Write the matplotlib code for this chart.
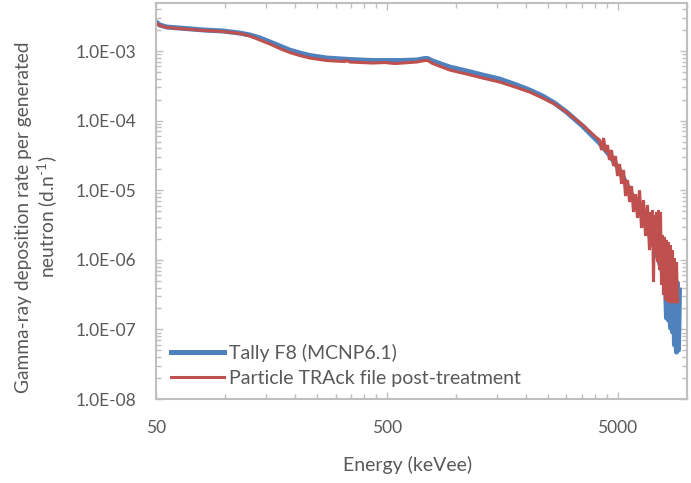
import matplotlib
matplotlib.use("Agg")
import matplotlib.pyplot as plt
from matplotlib.ticker import FixedLocator, NullFormatter

plt.rcParams['font.family'] = ['Lato', 'DejaVu Sans']
plt.rcParams['mathtext.fontset'] = 'custom'
plt.rcParams['mathtext.rm'] = 'Lato'
plt.rcParams['mathtext.it'] = 'Lato:italic'
plt.rcParams['mathtext.bf'] = 'Lato:bold'

# ---- data ----
tally_energy = [50, 52, 55.8, 66.8, 81.5, 97.5, 115.5, 127.6, 141, 155.8, 172, 190, 210, 232,
                275, 346, 434, 569, 674, 730, 752, 791, 937, 1110, 1302, 1542, 1827, 2079,
                2367, 2667, 3005, 3528, 4177, 4613, 5103, 5636, 6227, 6741, 7301, 7906,
                8069, 8150, 8231, 8314, 8397, 8481, 8566, 8652, 8739, 8826, 8915, 9004, 9094,
                9185, 9277]
tally_rate = [2.61e-3, 2.36e-3, 2.21e-3, 2.11e-3, 2.00e-3, 1.94e-3, 1.81e-3, 1.70e-3, 1.54e-3,
              1.35e-3, 1.18e-3, 1.03e-3, 9.36e-4, 8.62e-4, 7.93e-4, 7.55e-4, 7.30e-4, 7.30e-4,
              7.43e-4, 7.80e-4, 7.80e-4, 7.18e-4, 5.89e-4, 5.16e-4, 4.52e-4, 3.96e-4, 3.25e-4,
              2.75e-4, 2.256e-4, 1.79e-4, 1.33e-4, 8.36e-5, 4.77e-5, 3.2e-5, 1.95e-5, 1.0e-5,
              5.2e-6, 2.68e-6, 1.38e-6, 6.05e-7,
              4.35e-7, 1.46e-7, 3.68e-7, 1.36e-7, 3.68e-7, 1.05e-7, 3.93e-7, 9.18e-8, 3.93e-7,
              5.97e-8, 4.35e-7, 4.73e-8, 4.64e-7, 5.06e-8, 3.68e-7]

ptrac_energy = [50, 52, 55.8, 66.8, 81.5, 97.5, 115.5, 127.6, 141, 155.8, 172, 190, 210, 232,
                275, 329, 335.6, 346, 434, 490, 541.5, 629, 674, 730, 752, 791, 937, 1110,
                1302, 1542, 1827, 2079, 2367, 2667, 3005, 3528, 3975,
                4177, 4262, 4349, 4437, 4525, 4613, 4710, 4804, 4900, 5000, 5103, 5204, 5309,
                5416, 5525, 5636, 5749, 5865, 5982, 6103, 6227, 6351, 6480, 6610, 6741,
                6878, 6947, 7017, 7087, 7159, 7230, 7303, 7376, 7450, 7525, 7600, 7676, 7753,
                7831, 7909, 7989, 8069, 8150, 8231, 8314, 8397, 8481, 8566, 8652, 8739, 8826,
                8915, 9004, 9094]
ptrac_rate = [2.525e-3, 2.325e-3, 2.176e-3, 2.07e-3, 1.97e-3, 1.906e-3, 1.784e-3, 1.643e-3,
              1.439e-3, 1.26e-3, 1.086e-3, 9.52e-4, 8.62e-4, 7.93e-4, 7.30e-4, 7.06e-4, 7.30e-4,
              6.95e-4, 6.72e-4, 6.84e-4, 6.61e-4, 6.84e-4, 6.95e-4, 7.30e-4, 7.30e-4, 6.61e-4,
              5.33e-4, 4.67e-4, 4.09e-4, 3.585e-4, 2.99e-4, 2.576e-4, 2.11e-4, 1.73e-4, 1.33e-4,
              8.65e-5, 6.01e-5,
              5.26e-5, 3.78e-5, 5.62e-5, 3.54e-5, 4.46e-5, 2.72e-5, 3.78e-5, 2.23e-5, 3.1e-5,
              1.6e-5, 2.38e-5, 1.23e-5, 1.95e-5, 8.25e-6, 1.4e-5, 6.77e-6, 1.15e-5, 4.86e-6,
              8.82e-6, 3.99e-6, 1.0e-5, 2.86e-6, 7.23e-6, 2.2e-6, 6.13e-6,
              1.38e-6, 4.86e-6, 1.63e-6, 5.19e-6, 4.8e-7, 4.4e-6, 1.38e-6, 4.86e-6, 9.3e-7,
              5.19e-6, 7.14e-7, 4.86e-6, 4.35e-7, 2.27e-6, 3.12e-7, 2.13e-6, 2.64e-7, 1.93e-6,
              2.48e-7, 1.8e-6, 2.39e-7, 1.63e-6, 2.39e-7, 1.38e-6, 2.39e-7, 1.06e-6, 2.39e-7,
              9.3e-7, 2.48e-7]

x_major = [50, 500, 5000]
x_major_labels = ["50", "500", "5000"]
x_minor = [100, 150, 200, 250, 300, 350, 400, 450,
           1000, 1500, 2000, 2500, 3000, 3500, 4000, 4500, 10000]
y_major = [1e-8, 1e-7, 1e-6, 1e-5, 1e-4, 1e-3]
y_major_labels = ["1.0E-08", "1.0E-07", "1.0E-06", "1.0E-05", "1.0E-04", "1.0E-03"]
y_minor = [m * 10.0 ** e for e in range(-8, -2) for m in range(2, 10)]

series_names = ["Tally F8 (MCNP6.1)", "Particle TRAck file post-treatment"]
x_title = "Energy (keVee)"
y_title = "Gamma-ray deposition rate per generated\nneutron (d.n$^{\\text{-1}}$)"

# ---- figure ----
fig = plt.figure(figsize=(6.91, 4.83), dpi=100)
ax = fig.add_axes([156 / 691, 1 - 399 / 483, (687 - 156) / 691, (399 - 3) / 483])

blue = "#4F81BD"
red = "#C0504D"
grey = "#BFBFBF"
txt = "#595959"

ax.plot(tally_energy, tally_rate, color=blue, lw=3.6, solid_joinstyle='round', label=series_names[0])
ax.plot(ptrac_energy, ptrac_rate, color=red, lw=2.2, solid_joinstyle='miter', label=series_names[1])

ax.set_xscale('log')
ax.set_yscale('log')
ax.set_xlim(50, 10000)
ax.set_ylim(1e-8, 4.9e-3)

ax.xaxis.set_major_locator(FixedLocator(x_major))
ax.xaxis.set_minor_locator(FixedLocator(x_minor))
ax.xaxis.set_minor_formatter(NullFormatter())
ax.set_xticklabels(x_major_labels)
ax.yaxis.set_major_locator(FixedLocator(y_major))
ax.yaxis.set_minor_locator(FixedLocator(y_minor))
ax.yaxis.set_minor_formatter(NullFormatter())
ax.set_yticklabels(y_major_labels)

for s in ax.spines.values():
    s.set_color(grey)
    s.set_linewidth(1.5)

ax.tick_params(which='both', direction='in', top=True, right=True, color=grey, width=1.0,
               labelsize=12.5, labelcolor=txt)
ax.tick_params(which='major', length=5)
ax.tick_params(which='minor', length=3.5)
ax.tick_params(axis='x', which='major', pad=15)
ax.tick_params(axis='y', which='major', pad=14)

fig.text(408 / 691, 1 - 465 / 483, x_title, ha='center', va='center', fontsize=14, color=txt)
fig.text(37 / 691, 1 - 217 / 483, y_title, ha='center', va='center', rotation=90,
         fontsize=13.8, color=txt, multialignment='center', linespacing=1.2)

leg = ax.legend(loc='lower left', bbox_to_anchor=(15 / 531, 0.031), frameon=False, fontsize=14,
                handlelength=2.7, handletextpad=0.3, labelspacing=0.42, borderaxespad=0.0,
                borderpad=0.0, labelcolor=txt)

fig.savefig("out.png", dpi=100)
